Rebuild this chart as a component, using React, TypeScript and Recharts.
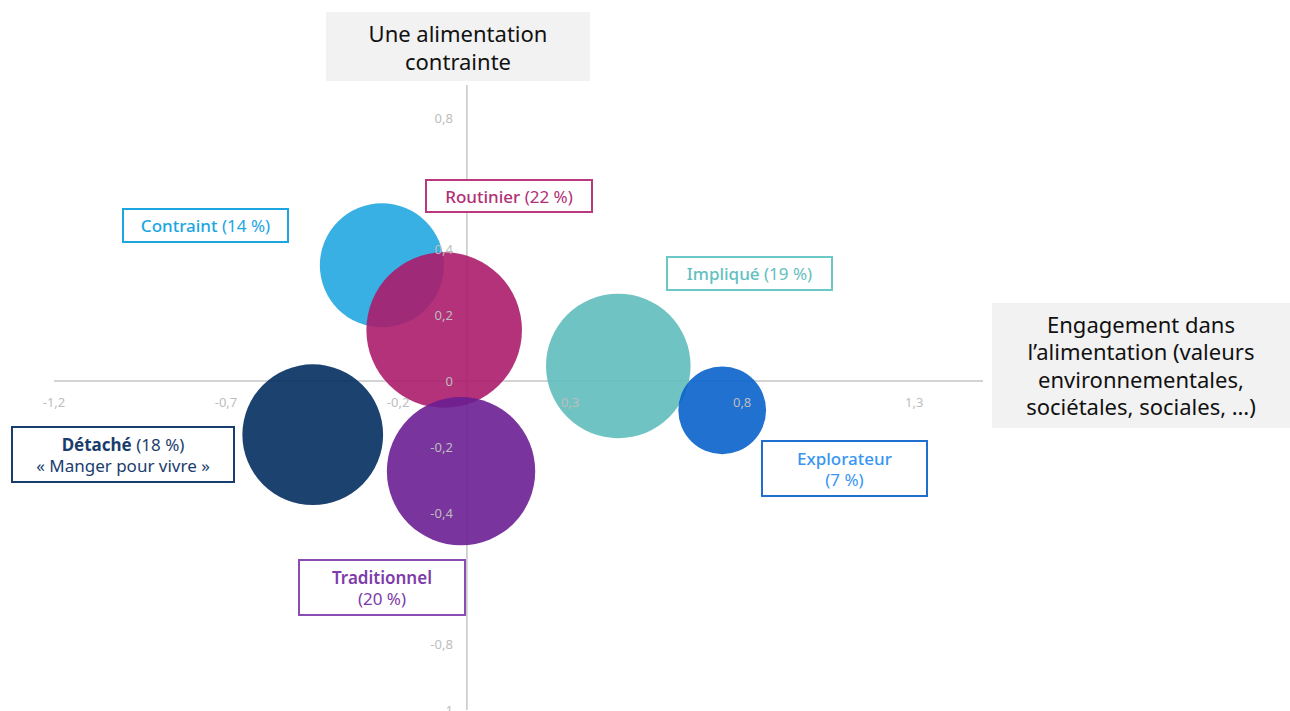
import React from 'react';
import { ScatterChart, Scatter, XAxis, YAxis, ZAxis, ReferenceLine, ReferenceDot } from 'recharts';

// segments of the typology, drawn back to front
const segments = ['Contraint', 'Routinier', 'Impliqué', 'Explorateur', 'Détaché', 'Traditionnel'];
const engagement = [-0.247, -0.066, 0.44, 0.742, -0.448, -0.017]; // x
const contrainte = [0.352, 0.155, 0.046, -0.089, -0.163, -0.274]; // y
const shares = [14, 22, 19, 7, 18, 20]; // % of population -> bubble area
const bubbleColors = ['#22a7e1', '#ab1c6b', '#60bcbd', '#0862cb', '#032e60', '#6a1e92'];

const xTicks = [-1.2, -0.7, -0.2, 0.3, 0.8, 1.3];
// 0,6 and -0,6 sit under the label boxes in the original, so they are not shown
const yTicks = [0.8, 0.4, 0.2, 0, -0.2, -0.4, -0.8, -1];

// label boxes text
const labelLines = [
  [['Contraint', ' (14 %)']],
  [['Routinier', ' (22 %)']],
  [['Impliqué', ' (19 %)']],
  [['Explorateur', ''], ['', '(7 %)']],
  [['Détaché', ' (18 %)'], ['', '« Manger pour vivre »']],
  [['Traditionnel', ''], ['', '(20 %)']],
];
const labelText = ['#1ba6e2', '#b12f74', '#62c0c0', '#3896f2', '#1a3d6d', '#7e3ca8'];
const labelBorder = ['#1ba6e2', '#b83a7d', '#6cc7c7', '#1e6fd0', '#173e6f', '#8a4cb4'];
const nameWeight = [500, 500, 500, 500, 700, 600];

// box placement (px)
const labelBoxes = [
  { left: 122, top: 208, width: 167, height: 35 },
  { left: 425, top: 179, width: 168, height: 34 },
  { left: 666, top: 256, width: 167, height: 35 },
  { left: 761, top: 440, width: 167, height: 57 },
  { left: 11, top: 426, width: 224, height: 57 },
  { left: 298, top: 559, width: 168, height: 57 },
];

const FONT = '"Noto Sans", "Open Sans", sans-serif';
const tickColor = '#bdbdbd';

const fmt = (v: number) => String(v).replace('.', ',');

const App = () => {
  return (
    <div style={{ position: 'absolute', left: 0, top: 0, width: 1290, height: 711, background: '#fff', fontFamily: FONT }}>
      <ScatterChart width={1290} height={711} margin={{ top: 85, right: 307, bottom: 1, left: 54 }}>
        <XAxis type="number" dataKey="x" domain={[-1.2, 1.5]} ticks={xTicks} allowDataOverflow hide />
        <YAxis type="number" dataKey="y" domain={[-1, 0.9]} ticks={yTicks} allowDataOverflow hide />
        <ZAxis type="number" dataKey="z" domain={[0, 22]} range={[0, 19008]} />
        <ReferenceLine y={0} stroke="#c6c6c6" strokeWidth={1.5} zIndex={0} />
        <ReferenceLine x={0} stroke="#c6c6c6" strokeWidth={1.5} zIndex={0} />
        {segments.map((name, i) => (
          <Scatter
            key={name}
            name={name}
            data={[{ x: engagement[i], y: contrainte[i], z: shares[i] }]}
            isAnimationActive={false}
            zIndex={600 + i}
            shape={(p: any) => (
              <circle
                cx={p.cx}
                cy={p.cy}
                r={p.width ? p.width / 2 : Math.sqrt(p.size / Math.PI)}
                fill={bubbleColors[i]}
                fillOpacity={0.9}
              />
            )}
          />
        ))}
        {xTicks.map((t) => (
          <ReferenceDot
            key={'x' + t}
            x={t}
            y={0}
            r={0}
            zIndex={900}
            shape={(p: any) => (
              <text x={p.cx} y={p.cy + 21} textAnchor="middle" dominantBaseline="central" fontSize={13} fill={tickColor} fontFamily={FONT}>
                {fmt(t)}
              </text>
            )}
          />
        ))}
        {yTicks.map((t) => (
          <ReferenceDot
            key={'y' + t}
            x={0}
            y={t}
            r={0}
            zIndex={900}
            shape={(p: any) => (
              <text x={p.cx - 14} y={p.cy} textAnchor="end" dominantBaseline="central" fontSize={13} fill={tickColor} fontFamily={FONT}>
                {fmt(t)}
              </text>
            )}
          />
        ))}
      </ScatterChart>

      {/* axis titles */}
      <div
        style={{
          position: 'absolute', left: 326, top: 12, width: 264, height: 69, background: '#f2f2f2',
          display: 'flex', alignItems: 'center', justifyContent: 'center', textAlign: 'center',
          fontSize: 22, lineHeight: '28px', color: '#111',
        }}
      >
        Une alimentation<br />contrainte
      </div>
      <div
        style={{
          position: 'absolute', left: 992, top: 303, width: 298, height: 125, background: '#f2f2f2',
          display: 'flex', alignItems: 'center', justifyContent: 'center', textAlign: 'center',
          fontSize: 22, lineHeight: '27.5px', color: '#111',
        }}
      >
        Engagement dans<br />l’alimentation (valeurs<br />environnementales,<br />sociétales, sociales, …)
      </div>

      {/* segment labels */}
      {segments.map((name, i) => (
        <div
          key={name}
          style={{
            position: 'absolute', ...labelBoxes[i], boxSizing: 'border-box', border: `2px solid ${labelBorder[i]}`,
            background: '#fff', color: labelText[i], display: 'flex', flexDirection: 'column',
            alignItems: 'center', justifyContent: 'center', fontSize: 17, lineHeight: '21px',
          }}
        >
          {labelLines[i].map(([strong, rest], j) => (
            <div key={j}>
              {strong && <span style={{ fontWeight: nameWeight[i] }}>{strong}</span>}
              {rest}
            </div>
          ))}
        </div>
      ))}
    </div>
  );
};

export default App;
